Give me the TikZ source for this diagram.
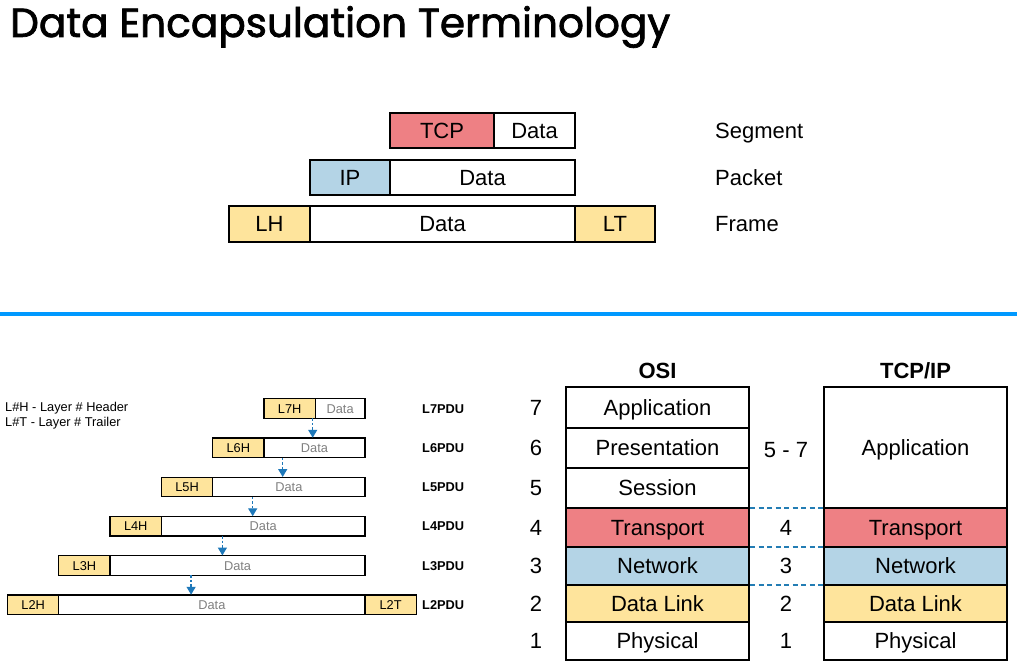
\documentclass[tikz,border=0pt]{standalone}
\usepackage{fontspec}
\setmainfont{Liberation Sans}
\newfontfamily\titlefont[FakeBold=1.8]{Poppins}
\usetikzlibrary{arrows.meta,calc}
\definecolor{tcpred}{RGB}{238,128,132}
\definecolor{ipblue}{RGB}{180,212,230}
\definecolor{lyellow}{RGB}{254,228,156}
\definecolor{divblue}{RGB}{0,153,255}
\definecolor{dotblue}{RGB}{35,125,180}
\definecolor{arrblue}{RGB}{30,120,185}
\begin{document}
\begin{tikzpicture}[x=1pt,y=-1pt,
  capl/.style={text height=15.75pt,text depth=0pt},
  caps/.style={text height=9.15pt,text depth=0pt},
  big/.style={draw=black,line width=2pt,outer sep=0pt,inner sep=0pt,minimum height=35pt,capl,font=\fontsize{22}{22}\selectfont},
  lay/.style={draw=black,line width=2pt,outer sep=0pt,inner sep=0pt,minimum width=183pt,capl,font=\fontsize{22}{22}\selectfont},
  lbl/.style={anchor=west,inner sep=0pt,capl,font=\fontsize{22}{22}\selectfont},
  num/.style={inner sep=0pt,capl,font=\fontsize{22}{22}\selectfont},
  hdrbox/.style={draw=black,line width=1.3pt,fill=lyellow,outer sep=0pt,inner sep=0pt,minimum width=51.3pt,minimum height=19.5pt,anchor=west,caps,font=\fontsize{12.8}{12.8}\selectfont},
  datbox/.style={draw=black,line width=1.3pt,fill=white,outer sep=0pt,inner sep=0pt,minimum height=19.5pt,anchor=west,text=black!50,caps,font=\fontsize{12.8}{12.8}\selectfont},
  pdu/.style={anchor=west,inner sep=0pt,caps,font=\bfseries\fontsize{12.8}{12.8}\selectfont},
  legend/.style={anchor=west,inner sep=0pt,caps,font=\fontsize{12.8}{12.8}\selectfont},
  flow/.style={draw=arrblue,line width=1.4pt,dash pattern=on 2.5pt off 2pt,-{Triangle[length=8pt,width=9pt]}},
  sep/.style={draw=dotblue,line width=2pt,dash pattern=on 5pt off 3.5pt}
]
\useasboundingbox (0,0) rectangle (1017,663);
% title
\node[anchor=west,inner sep=0pt] (title) at (10,27) {\resizebox{660pt}{!}{\titlefont Data Encapsulation Terminology}};
% top rows
\node[big,fill=tcpred,minimum width=104pt] (tcp) at (442,130.5) {TCP};
\node[big,fill=white,minimum width=81pt] (segdata) at (534.5,130.5) {Data};
\node[big,fill=ipblue,minimum width=80pt] (ip) at (350,177.5) {IP};
\node[big,fill=white,minimum width=185pt] (pktdata) at (482.5,177.5) {Data};
\node[big,fill=lyellow,minimum width=81pt] (lh) at (269.5,224) {LH};
\node[big,fill=white,minimum width=265pt] (frdata) at (442.5,224) {Data};
\node[big,fill=lyellow,minimum width=80pt] (lt) at (615,224) {LT};
\node[lbl] (segment) at (715,130.5) {Segment};
\node[lbl] (packet) at (715,177.5) {Packet};
\node[lbl] (frame) at (715,224) {Frame};
% divider
\coordinate (divl) at (0,314);
\coordinate (divr) at (1017,314);
\draw[divblue,line width=4pt] (divl) -- (divr);
% legend
\node[legend] (leg1) at (5,407) {L\#H - Layer \# Header};
\node[legend] (leg2) at (5,422) {L\#T - Layer \# Trailer};
% PDU stack
\node[hdrbox] (h7) at (264,408.5) {L7H};
\node[datbox,minimum width=49.7pt] (d7) at (h7.east) {Data};
\node[hdrbox] (h6) at (212.7,447.75) {L6H};
\node[datbox,minimum width=101pt] (d6) at (h6.east) {Data};
\node[hdrbox] (h5) at (161.4,487) {L5H};
\node[datbox,minimum width=152.3pt] (d5) at (h5.east) {Data};
\node[hdrbox] (h4) at (110.1,526.25) {L4H};
\node[datbox,minimum width=203.6pt] (d4) at (h4.east) {Data};
\node[hdrbox] (h3) at (58.8,565.5) {L3H};
\node[datbox,minimum width=254.9pt] (d3) at (h3.east) {Data};
\node[hdrbox] (h2) at (7.5,604.75) {L2H};
\node[datbox,minimum width=306.2pt] (d2) at (h2.east) {Data};
\node[hdrbox] (t2) at (d2.east) {L2T};
\node[pdu] (p7) at (422,408.5) {L7PDU};
\node[pdu] (p6) at (422,447.75) {L6PDU};
\node[pdu] (p5) at (422,487) {L5PDU};
\node[pdu] (p4) at (422,526.25) {L4PDU};
\node[pdu] (p3) at (422,565.5) {L3PDU};
\node[pdu] (p2) at (422,604.75) {L2PDU};
\draw[flow] ($(h7.south east)+(-2.6,0)$) -- ++(0,19.5);
\draw[flow] ($(h6.south east)+(18.7,0)$) -- ++(0,19.5);
\draw[flow] ($(h5.south east)+(40,0)$) -- ++(0,19.5);
\draw[flow] ($(h4.south east)+(61,0)$) -- ++(0,19.5);
\draw[flow] ($(h3.south east)+(81,0)$) -- ++(0,19.5);
% OSI
\node[font=\bfseries\fontsize{22}{22}\selectfont,inner sep=0pt,capl] (osi) at (657.5,371) {OSI};
\node[font=\bfseries\fontsize{22}{22}\selectfont,inner sep=0pt,capl] (tcpip) at (915.5,371) {TCP/IP};
\node[lay,fill=white,minimum height=41pt] (o7) at (657.5,407.5) {Application};
\node[lay,fill=white,minimum height=40pt] (o6) at (657.5,448) {Presentation};
\node[lay,fill=white,minimum height=40pt] (o5) at (657.5,488) {Session};
\node[lay,fill=tcpred,minimum height=39pt] (o4) at (657.5,527.5) {Transport};
\node[lay,fill=ipblue,minimum height=38pt] (o3) at (657.5,566) {Network};
\node[lay,fill=lyellow,minimum height=37pt] (o2) at (657.5,603.5) {Data Link};
\node[lay,fill=white,minimum height=38pt] (o1) at (657.5,641) {Physical};
\node[lay,fill=white,minimum height=121pt] (t7) at (915.5,447.5) {Application};
\node[lay,fill=tcpred,minimum height=39pt] (t4) at (915.5,527.5) {Transport};
\node[lay,fill=ipblue,minimum height=38pt] (t3) at (915.5,566) {Network};
\node[lay,fill=lyellow,minimum height=37pt] (t2l) at (915.5,603.5) {Data Link};
\node[lay,fill=white,minimum height=38pt] (t1) at (915.5,641) {Physical};
% numbers
\node[num] (n7) at (536,407.5) {7};
\node[num] (n6) at (536,448) {6};
\node[num] (n5) at (536,488) {5};
\node[num] (n4) at (536,527.5) {4};
\node[num] (n3) at (536,566) {3};
\node[num] (n2) at (536,603.5) {2};
\node[num] (n1) at (536,641) {1};
\node[num] (m57) at (786,450) {5 - 7};
\node[num] (m4) at (786,527.5) {4};
\node[num] (m3) at (786,566) {3};
\node[num] (m2) at (786,603.5) {2};
\node[num] (m1) at (786,641) {1};
% dotted separators
\draw[sep] ($(o4.north east)+(1,0)$) -- ($(t4.north west)+(-1,0)$);
\draw[sep] ($(o3.north east)+(1,0)$) -- ($(t3.north west)+(-1,0)$);
\draw[sep] ($(o2.north east)+(1,0)$) -- ($(t2l.north west)+(-1,0)$);
\end{tikzpicture}
\end{document}
